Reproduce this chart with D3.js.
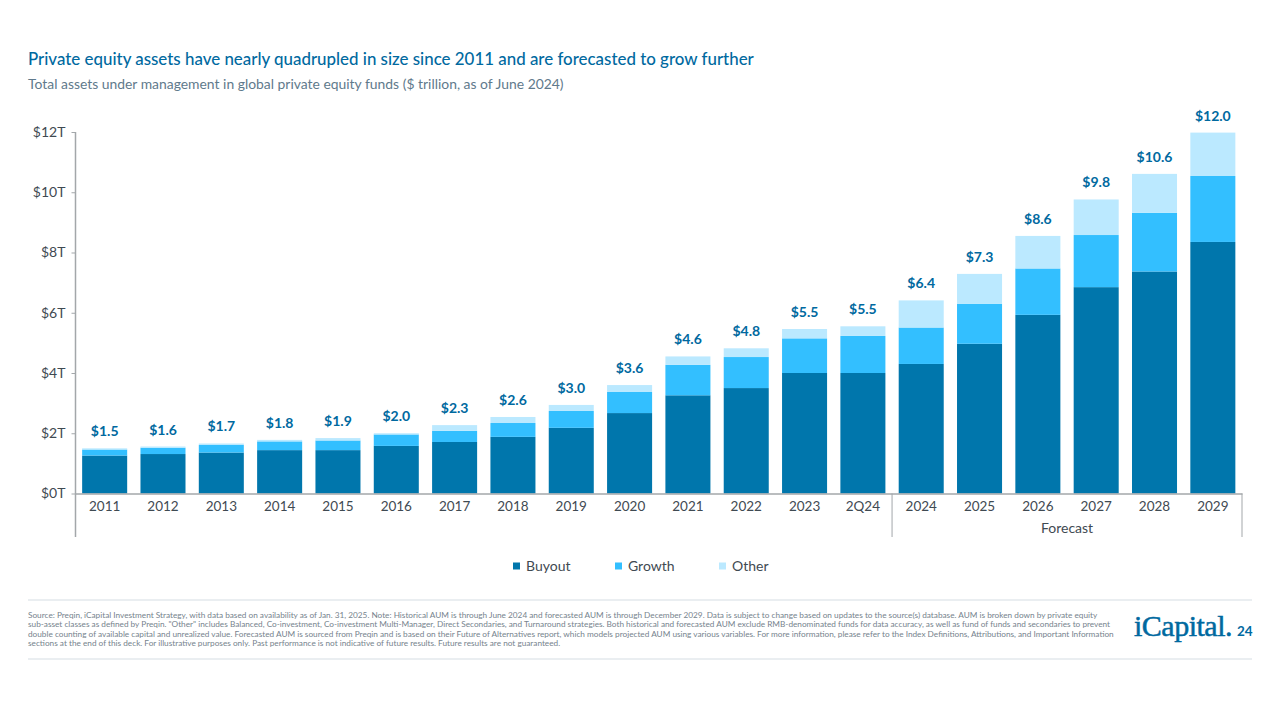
<!DOCTYPE html>
<html>
<head>
<meta charset="utf-8">
<script src="https://cdn.jsdelivr.net/npm/d3@7"></script>
<style>
  html, body { margin: 0; padding: 0; background: #fff; }
  svg { display: block; }
  text { font-family: Lato, "Open Sans", sans-serif; }
</style>
</head>
<body>
<div id="chart"></div>
<script>
var categories = ["2011","2012","2013","2014","2015","2016","2017","2018","2019","2020","2021","2022","2023","2Q24","2024","2025","2026","2027","2028","2029"];
var buyout = [1.26,1.31,1.36,1.44,1.44,1.58,1.71,1.88,2.18,2.67,3.26,3.50,4.00,4.00,4.30,4.97,5.93,6.85,7.37,8.35];
var growth = [0.20,0.21,0.25,0.29,0.32,0.38,0.37,0.46,0.56,0.70,1.01,1.03,1.15,1.23,1.21,1.33,1.54,1.73,1.95,2.19];
var other = [0.04,0.04,0.05,0.05,0.08,0.04,0.19,0.20,0.20,0.23,0.28,0.29,0.31,0.32,0.90,0.99,1.08,1.18,1.29,1.44];
var totals = ["$1.5","$1.6","$1.7","$1.8","$1.9","$2.0","$2.3","$2.6","$3.0","$3.6","$4.6","$4.8","$5.5","$5.5","$6.4","$7.3","$8.6","$9.8","$10.6","$12.0"];
var seriesNames = ["Buyout","Growth","Other"];
var seriesColors = ["#0076ac","#33bfff","#bbe9ff"];
var yTicks = [0,2,4,6,8,10,12];
var footnotes = [
  "Source: Preqin, iCapital Investment Strategy, with data based on availability as of Jan. 31, 2025. Note: Historical AUM is through June 2024 and forecasted AUM is through December 2029. Data is subject to change based on updates to the source(s) database. AUM is broken down by private equity",
  "sub-asset classes as defined by Preqin. \"Other\" includes Balanced, Co-investment, Co-investment Multi-Manager, Direct Secondaries, and Turnaround strategies. Both historical and forecasted AUM exclude RMB-denominated funds for data accuracy, as well as fund of funds and secondaries to prevent",
  "double counting of available capital and unrealized value. Forecasted AUM is sourced from Preqin and is based on their Future of Alternatives report, which models projected AUM using various variables. For more information, please refer to the Index Definitions, Attributions, and Important Information",
  "sections at the end of this deck. For illustrative purposes only. Past performance is not indicative of future results. Future results are not guaranteed."
];

var svg = d3.select("#chart").append("svg").attr("width", 1280).attr("height", 720);
var axisColor = "#a3a7aa", labelColor = "#3f4a52", blue = "#00699f";

var x = d3.scaleBand().domain(categories).range([75.5, 1242]).paddingInner(0.228).paddingOuter(0.114);
var y = d3.scaleLinear().domain([0, 12]).range([493.5, 132]);

// title block
svg.append("text").attr("x", 28).attr("y", 65).attr("fill", blue)
  .style("font-size", "16.9px").style("font-weight", 500)
  .text("Private equity assets have nearly quadrupled in size since 2011 and are forecasted to grow further");
svg.append("text").attr("x", 28).attr("y", 89).attr("fill", "#5f7a8c")
  .style("font-size", "13.9px")
  .text("Total assets under management in global private equity funds ($ trillion, as of June 2024)");

// stacked bars
var rows = categories.map(function (c, i) {
  return { cat: c, Buyout: buyout[i], Growth: growth[i], Other: other[i], total: totals[i] };
});
var stacked = d3.stack().keys(seriesNames)(rows);

svg.selectAll("g.series")
  .data(stacked)
  .enter().append("g")
  .attr("class", "series")
  .attr("fill", function (d, i) { return seriesColors[i]; })
  .selectAll("rect")
  .data(function (d) { return d; })
  .enter().append("rect")
  .attr("x", function (d) { return x(d.data.cat); })
  .attr("width", x.bandwidth())
  .attr("y", function (d) { return y(d[1]); })
  .attr("height", function (d) { return y(d[0]) - y(d[1]); });

// total labels
svg.selectAll("text.total")
  .data(stacked[2])
  .enter().append("text")
  .attr("class", "total")
  .attr("x", function (d) { return x(d.data.cat) + x.bandwidth() / 2; })
  .attr("y", function (d) { return y(d[1]) - 12; })
  .attr("text-anchor", "middle")
  .attr("fill", blue)
  .style("font-size", "14px").style("font-weight", 700)
  .text(function (d) { return d.data.total; });

// y axis
var yAxis = svg.append("g").attr("transform", "translate(75.5,0)")
  .call(d3.axisLeft(y).tickValues(yTicks).tickSize(4).tickPadding(6).tickFormat(function (d) { return "$" + d + "T"; }));
yAxis.select(".domain").remove();
yAxis.selectAll("line").attr("stroke", axisColor);
yAxis.selectAll("text").attr("fill", labelColor).style("font-size", "14px").style("font-family", "Lato");

// x axis
var xAxis = svg.append("g").attr("transform", "translate(0,493.5)")
  .call(d3.axisBottom(x).tickSize(0).tickPadding(8));
xAxis.select(".domain").attr("stroke", axisColor).attr("stroke-width", 1.5);
xAxis.selectAll("text").attr("fill", labelColor).style("font-size", "13.5px").style("font-family", "Lato");

// vertical rules: full axis, history/forecast split, right end
var splitX = x("2024") - x.step() * x.paddingInner() / 2;
svg.append("line").attr("x1", 75.5).attr("x2", 75.5).attr("y1", y(12)).attr("y2", 537)
  .attr("stroke", axisColor).attr("stroke-width", 1.5);
[splitX, 1242].forEach(function (px) {
  svg.append("line").attr("x1", px).attr("x2", px).attr("y1", 493.5).attr("y2", 537)
    .attr("stroke", axisColor).attr("stroke-width", 1);
});
svg.append("text").attr("x", (splitX + 1242) / 2).attr("y", 533)
  .attr("text-anchor", "middle").attr("fill", labelColor)
  .style("font-size", "14px").text("Forecast");

// legend
var legendX = [513, 615, 719];
seriesNames.forEach(function (name, i) {
  svg.append("rect").attr("x", legendX[i]).attr("y", 562.5).attr("width", 7).attr("height", 7)
    .attr("fill", seriesColors[i]);
  svg.append("text").attr("x", legendX[i] + 13).attr("y", 571)
    .attr("fill", labelColor).style("font-size", "14px").text(name);
});

// footer
[600, 659].forEach(function (py) {
  svg.append("line").attr("x1", 28).attr("x2", 1252).attr("y1", py).attr("y2", py)
    .attr("stroke", "#d5dde3").attr("stroke-width", 1);
});
svg.selectAll("text.note")
  .data(footnotes)
  .enter().append("text")
  .attr("class", "note")
  .attr("x", 28)
  .attr("y", function (d, i) { return 617.5 + i * 9.6; })
  .attr("fill", "#76838d")
  .style("font-size", "8.24px")
  .text(function (d) { return d; });

// logo wordmark and page number
svg.append("text").attr("x", 1134).attr("y", 636).attr("fill", "#00699f")
  .attr("stroke", "#00699f").attr("stroke-width", 0.5)
  .style("font-family", "'Liberation Serif'").style("font-size", "30px").style("letter-spacing", "-0.5px")
  .text("iCapital.");
svg.append("text").attr("x", 1237).attr("y", 636).attr("fill", "#00699f")
  .style("font-size", "13.5px").style("font-weight", 700).text("24");
</script>
</body>
</html>
